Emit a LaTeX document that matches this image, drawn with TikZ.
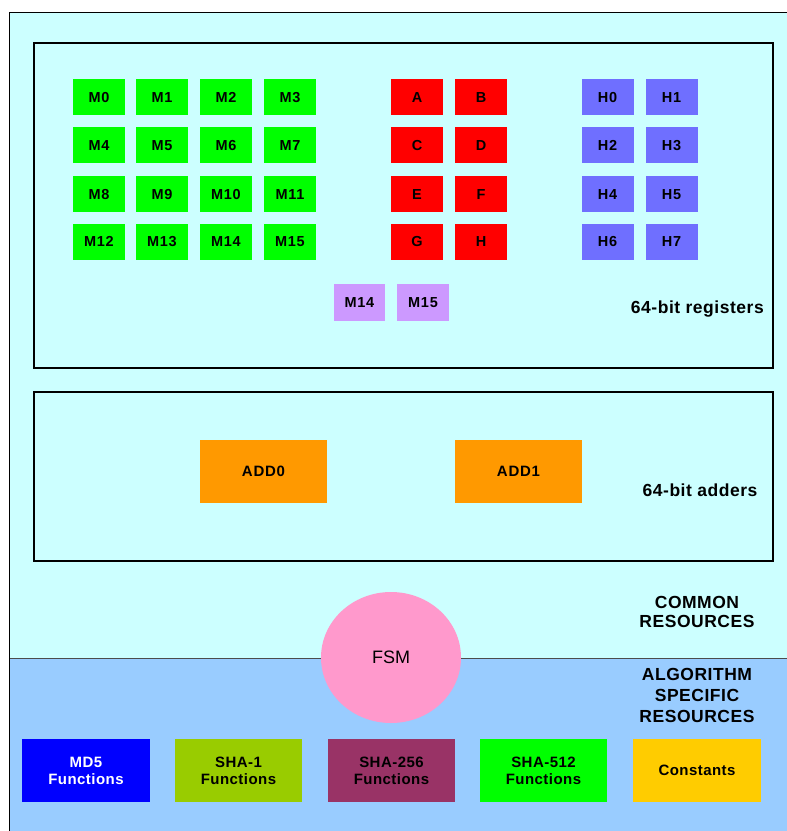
\documentclass[tikz,border=0pt]{standalone}
\usepackage{fontspec}
\setmainfont{Liberation Sans}
\usetikzlibrary{shapes.geometric}
\definecolor{cyanbg}{HTML}{CCFFFF}
\definecolor{lowbg}{HTML}{99CCFF}
\definecolor{mgreen}{HTML}{00FF00}
\definecolor{mred}{HTML}{FF0000}
\definecolor{hblue}{HTML}{6F6FFF}
\definecolor{mpurple}{HTML}{CC99FF}
\definecolor{addor}{HTML}{FF9900}
\definecolor{fsmpink}{HTML}{FF99CC}
\definecolor{mdblue}{HTML}{0000FF}
\definecolor{shaone}{HTML}{99CC00}
\definecolor{shatwo}{HTML}{993366}
\definecolor{constc}{HTML}{FFCC00}
\tikzset{
  reg/.style={rectangle, inner sep=0pt, minimum width=52pt, minimum height=36pt,
    text height=10.4pt, text depth=0pt,
    font=\fontsize{14.5}{16}\selectfont\bfseries\addfontfeature{LetterSpace=5}},
  addbox/.style={rectangle, fill=addor, inner sep=0pt, minimum width=127pt, minimum height=63pt,
    text height=10.7pt, text depth=0pt,
    font=\fontsize{15}{17}\selectfont\bfseries\addfontfeature{LetterSpace=5}},
  fbox/.style={rectangle, inner sep=0pt, minimum width=128pt, minimum height=63pt, align=center,
    font=\fontsize{15}{17}\selectfont\bfseries\addfontfeature{LetterSpace=3}},
  lbl/.style={font=\fontsize{17.5}{21}\selectfont\bfseries\addfontfeature{LetterSpace=3}, align=center, inner sep=0pt},
  frame/.style={draw=black, line width=1.2pt}
}
\begin{document}
\begin{tikzpicture}[x=1pt,y=-1pt]
\useasboundingbox (0,0) rectangle (787,831);
\clip (0,0) rectangle (787,831);
\fill[white] (0,0) rectangle (787,831);
% backgrounds
\fill[cyanbg] (9,12) rectangle (790,658);
\fill[lowbg] (9,658) rectangle (790,834);
\draw[black!70, line width=0.8pt] (9,658) -- (790,658);
\draw[black, line width=0.8pt] (9,834) -- (9,12) -- (790,12);
% register frame
\draw[frame] (34,43) rectangle (773,368);
% adder frame
\draw[frame] (34,392) rectangle (773,561);
% M registers
\foreach \n/\x/\y in {0/99/97,1/162/97,2/226/97,3/290/97,
                      4/99/145,5/162/145,6/226/145,7/290/145,
                      8/99/194,9/162/194,10/226/194,11/290/194,
                      12/99/241.5,13/162/241.5,14/226/241.5,15/290/241.5}
  \node[reg, fill=mgreen] (m\n) at (\x,\y) {M\n};
% working registers
\foreach \n/\x/\y in {A/417/97,B/481/97,C/417/145,D/481/145,E/417/194,F/481/194,G/417/241.5,H/481/241.5}
  \node[reg, fill=mred] (r\n) at (\x,\y) {\n};
% hash registers
\foreach \n/\x/\y in {0/607.5/97,1/671.5/97,2/607.5/145,3/671.5/145,4/607.5/194,5/671.5/194,6/607.5/241.5,7/671.5/241.5}
  \node[reg, fill=hblue] (h\n) at (\x,\y) {H\n};
% extra registers
\node[reg, fill=mpurple, minimum width=51pt, minimum height=37pt] (x14) at (359.5,302.5) {M14};
\node[reg, fill=mpurple, minimum width=52pt, minimum height=37pt] (x15) at (423,302.5) {M15};
\node[lbl, anchor=east] (reglbl) at (764,309.5) {64-bit registers};
% adders
\node[addbox] (add0) at (263.5,471.5) {ADD0};
\node[addbox] (add1) at (518.5,471.5) {ADD1};
\node[lbl] (addlbl) at (700,490) {64-bit adders};
% resource labels
\node[lbl, font=\fontsize{17.5}{19}\selectfont\bfseries\addfontfeature{LetterSpace=3}] (common) at (697,611.5) {COMMON\\RESOURCES};
\node[lbl] (algo) at (697,695.5) {ALGORITHM\\SPECIFIC\\RESOURCES};
% FSM
\node[ellipse, fill=fsmpink, minimum width=140pt, minimum height=131pt, inner sep=0pt,
  font=\fontsize{18}{20}\selectfont] (fsm) at (391,657.5) {FSM};
% algorithm function blocks
\node[fbox, fill=mdblue, text=white] (md5) at (86,770.5) {MD5\\Functions};
\node[fbox, fill=shaone, minimum width=127pt] (sha1) at (238.5,770.5) {SHA-1\\Functions};
\node[fbox, fill=shatwo, minimum width=127pt] (sha256) at (391.5,770.5) {SHA-256\\Functions};
\node[fbox, fill=mgreen, minimum width=127pt] (sha512) at (543.5,770.5) {SHA-512\\Functions};
\node[fbox, fill=constc] (const) at (697,770.5) {Constants};
\end{tikzpicture}
\end{document}
